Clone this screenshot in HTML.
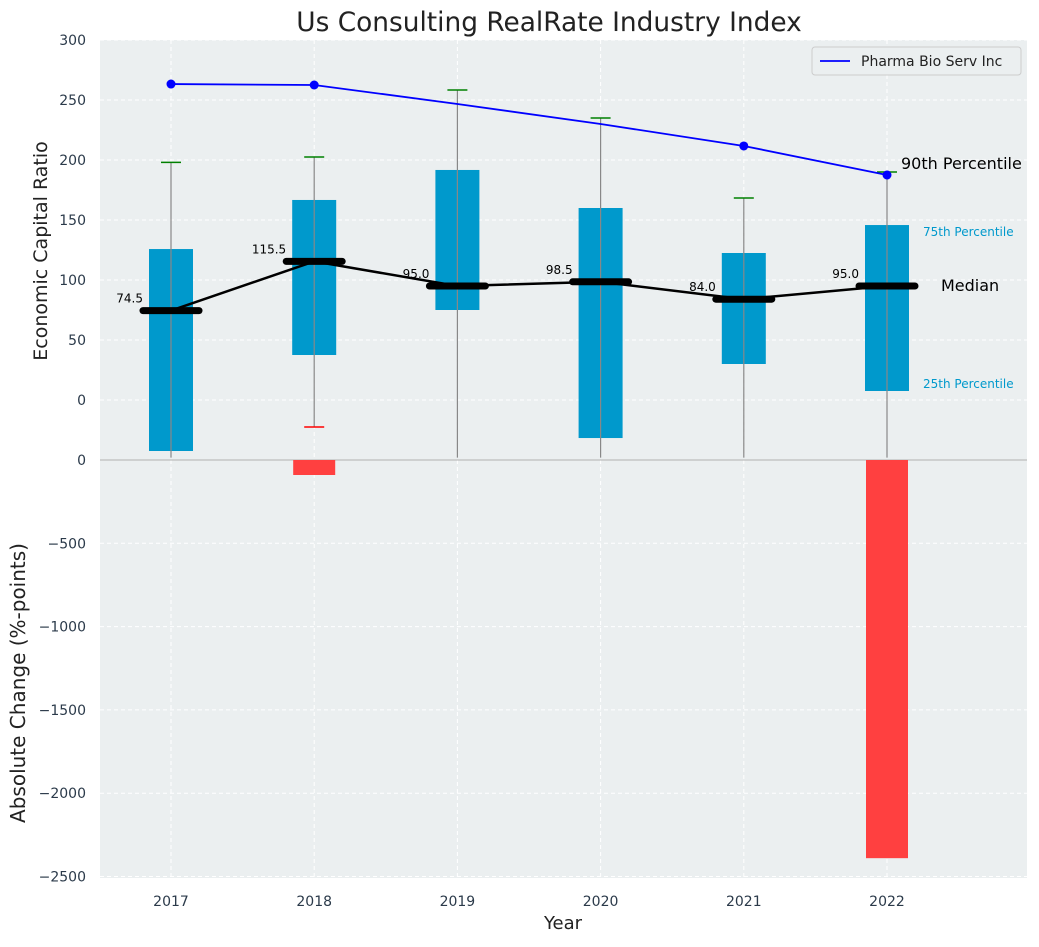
<!DOCTYPE html>
<html><head><meta charset="utf-8"><style>
body{margin:0;background:#fff;font-family:"Liberation Sans","DejaVu Sans",sans-serif;}
svg text{font-family:"DejaVu Sans","Liberation Sans",sans-serif;}
</style></head><body>
<svg id="c" width="1039" height="942" xmlns="http://www.w3.org/2000/svg"></svg>
<script>
const years=["2017","2018","2019","2020","2021","2022"];
const q1=[-42.5,37.5,75,-31.7,30,7.5];
const q3=[125.8,166.7,191.7,160,122.5,145.8];
const medians=[74.5,115.5,95,98.5,84,95];
const whiskerHigh=[198,202.5,258.3,235,168.3,190];
const whiskerLow=[-48,-22.5,-48,-48,-48,-48];
const pharma=[263.3,262.5,246.7,230,211.7,187.5];
const pharmaMarker=[true,true,false,false,true,true];
const absChange=[0,-90,0,0,0,-2390];
const topTicks=[0,50,100,150,200,250,300];
const botTicks=[0,-500,-1000,-1500,-2000,-2500];

const svg=document.getElementById('c');
const NS='http://www.w3.org/2000/svg';
function mk(t,a,p){const e=document.createElementNS(NS,t);for(const k in a)e.setAttribute(k,a[k]);(p||svg).appendChild(e);return e;}
const X0=100,X1=1027,T0=40,T1=460,B1=878;
const x=i=>171+i*143.2;
const yT=v=>400-v*1.2;
const yB=v=>460-v*(83.3/500);

const bg=mk('rect',{x:X0,y:T0,width:X1-X0,height:B1-T0,fill:'#ebeff0'});


topTicks.forEach(v=>{mk('line',{x1:X0,x2:X1,y1:yT(v),y2:yT(v),stroke:'#fff','stroke-dasharray':'4,3','stroke-width':1});
 const t=mk('text',{x:86,y:yT(v)+5,'text-anchor':'end','font-size':14,fill:'#2b3a4a'});t.textContent=v;
 });
botTicks.forEach(v=>{mk('line',{x1:X0,x2:X1,y1:yB(v),y2:yB(v),stroke:'#fff','stroke-dasharray':'4,3','stroke-width':1});
 const t=mk('text',{x:86,y:yB(v)+5,'text-anchor':'end','font-size':14,fill:'#2b3a4a'});t.textContent=String(v).replace('-','\u2212');
 });
years.forEach((yr,i)=>{mk('line',{x1:x(i),x2:x(i),y1:T0,y2:B1,stroke:'#fff','stroke-dasharray':'4,3','stroke-width':1});
 const t=mk('text',{x:x(i),y:906,'text-anchor':'middle','font-size':14,fill:'#2b3a4a'});t.textContent=yr;
 });
mk('line',{x1:X0,x2:X1,y1:T1,y2:T1,stroke:'#b0b0b0','stroke-width':1});

years.forEach((yr,i)=>{
 const g=mk('g',{});
 mk('rect',{x:x(i)-22,y:yT(q3[i]),width:44,height:yT(q1[i])-yT(q3[i]),fill:'#0099cc'},g);
 mk('line',{x1:x(i),x2:x(i),y1:yT(whiskerHigh[i]),y2:yT(whiskerLow[i]),stroke:'#888','stroke-width':1.2},g);
 mk('line',{x1:x(i)-10,x2:x(i)+10,y1:yT(whiskerHigh[i]),y2:yT(whiskerHigh[i]),stroke:'green','stroke-width':1.5},g);
 if(whiskerLow[i]>-48) mk('line',{x1:x(i)-10,x2:x(i)+10,y1:yT(whiskerLow[i]),y2:yT(whiskerLow[i]),stroke:'red','stroke-width':1.5},g);
 if(absChange[i]!==0){const b=mk('rect',{x:x(i)-21,y:yB(0),width:42,height:yB(absChange[i])-yB(0),fill:'#ff4040'});
  }
});
const ml=mk('polyline',{points:medians.map((m,i)=>x(i)+','+yT(m)).join(' '),fill:'none',stroke:'#000','stroke-width':2.5});

medians.forEach((m,i)=>{
 const s=mk('line',{x1:x(i)-28,x2:x(i)+28,y1:yT(m),y2:yT(m),stroke:'#000','stroke-width':7,'stroke-linecap':'round'});
 
 const t=mk('text',{x:x(i)-28,y:yT(m)-8,'text-anchor':'end','font-size':12,fill:'#000'});t.textContent=m.toFixed(1);
 
});
const pl=mk('polyline',{points:pharma.map((v,i)=>x(i)+','+yT(v)).join(' '),fill:'none',stroke:'#0000ff','stroke-width':1.8});

pharma.forEach((v,i)=>{if(pharmaMarker[i]){const c=mk('circle',{cx:x(i),cy:yT(v),r:4.5,fill:'#0000ff'});
 }});

function txt(s,a,n){const t=mk('text',a);t.textContent=s;return t;}
txt('90th Percentile',{x:901,y:169,'font-size':16,fill:'#000'},'annotation-90th');
txt('75th Percentile',{x:923,y:236,'font-size':12,fill:'#0099cc'},'annotation-75th');
txt('Median',{x:941,y:291,'font-size':16,fill:'#000'},'annotation-median');
txt('25th Percentile',{x:923,y:388,'font-size':12,fill:'#0099cc'},'annotation-25th');
txt('Us Consulting RealRate Industry Index',{x:549,y:31,'text-anchor':'middle','font-size':26.4,fill:'#222'},'chart-title');
txt('Year',{x:563,y:929,'text-anchor':'middle','font-size':18,fill:'#222'},'x-axis-title');
txt('Economic Capital Ratio',{x:47,y:251,'text-anchor':'middle','font-size':19,fill:'#222',transform:'rotate(-90 47 251)'},'top-y-axis-title');
txt('Absolute Change (%-points)',{x:25,y:683,'text-anchor':'middle','font-size':20,fill:'#222',transform:'rotate(-90 25 683)'},'bottom-y-axis-title');
const lg=mk('g',{});
mk('rect',{x:812,y:47,width:209,height:28,rx:3,fill:'#ebeff0',stroke:'#ccc'},lg);
mk('line',{x1:820,x2:850,y1:61,y2:61,stroke:'#0000ff','stroke-width':1.8},lg);
const lt=mk('text',{x:861,y:66,'font-size':14,fill:'#222'},lg);lt.textContent='Pharma Bio Serv Inc';
</script>
</body></html>
